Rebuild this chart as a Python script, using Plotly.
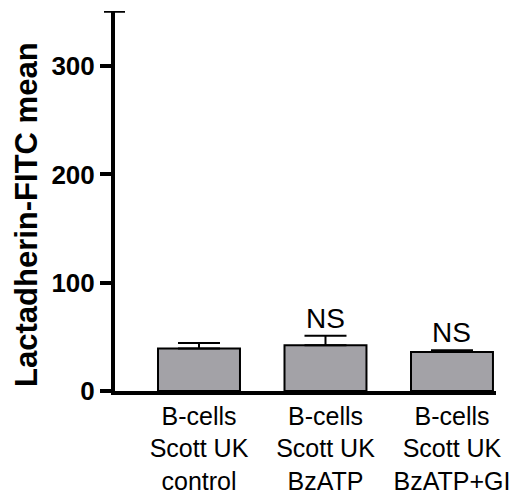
import plotly.graph_objects as go

# Group labels and summary statistics
categories = ["B-cells<br>Scott UK<br>control",
              "B-cells<br>Scott UK<br>BzATP",
              "B-cells<br>Scott UK<br>BzATP+GI"]
means = [39.3, 42.3, 36.1]
sem_upper = [5.1, 8.7, 1.6]
significance = ["", "NS", "NS"]
y_ticks = [0, 100, 200, 300]
y_top = 351

FONT = "Arial, Liberation Sans, sans-serif"
x_pos = list(range(len(categories)))

fig = go.Figure()
fig.add_trace(go.Bar(
    x=x_pos, y=means, width=0.648,
    marker=dict(color="#a3a2a7", line=dict(color="black", width=2)),
    error_y=dict(type="data", array=sem_upper, arrayminus=[0] * len(means),
                 symmetric=False, color="black", thickness=2, width=21),
))

# Significance labels above each error bar
for xi, m, e, s in zip(x_pos, means, sem_upper, significance):
    if s:
        fig.add_annotation(x=xi, y=m + e, text=s, showarrow=False,
                           xanchor="center", yanchor="bottom", yshift=0,
                           font=dict(family=FONT, size=28, color="black"))

# Y-axis title
fig.add_annotation(xref="paper", yref="paper", x=-0.231, y=0.466,
                   text="Lactadherin-FITC mean", textangle=-90,
                   showarrow=False, xanchor="center", yanchor="middle",
                   font=dict(family=FONT, size=31, color="black", weight="bold"))

# Cap at the top of the y-axis
fig.add_shape(type="line", xref="paper", yref="y",
              x0=-11 / 381, x1=10 / 381, y0=y_top, y1=y_top,
              line=dict(color="black", width=3.5))

fig.update_layout(
    width=524, height=494,
    margin=dict(l=115, r=28, t=11, b=103, autoexpand=False),
    plot_bgcolor="white", paper_bgcolor="white",
    showlegend=False,
    xaxis=dict(range=[-0.664, 2.348], tickmode="array", tickvals=x_pos,
               ticktext=categories, showline=True, linecolor="black",
               linewidth=3.5, ticks="", showgrid=False, zeroline=False,
               automargin=False,
               tickfont=dict(family=FONT, size=25, color="black")),
    yaxis=dict(range=[0, y_top], tickmode="array", tickvals=y_ticks,
               showline=True, linecolor="black", linewidth=4,
               ticks="outside", ticklen=11, tickwidth=3.5, tickcolor="black",
               showgrid=False, zeroline=False, automargin=False,
               tickfont=dict(family=FONT, size=26, color="black", weight="bold")),
)

fig.write_html("out.html")
